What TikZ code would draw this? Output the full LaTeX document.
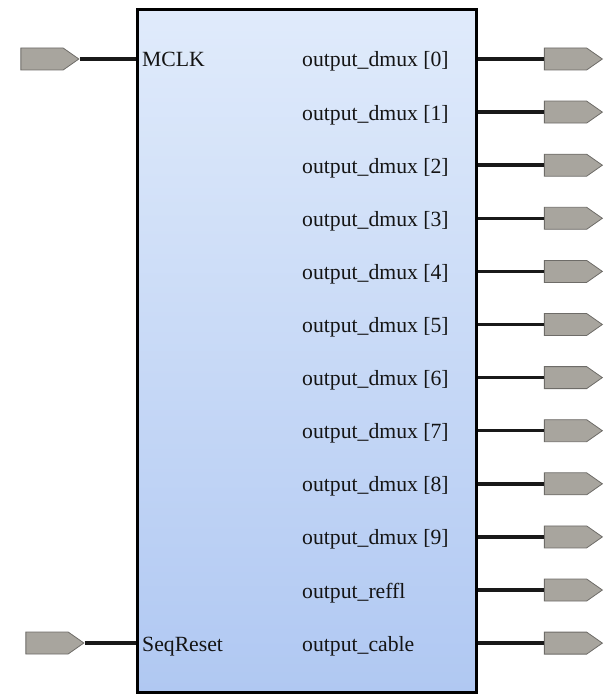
\documentclass[tikz,border=0pt]{standalone}
\usepackage{fontspec}
\setmainfont{Liberation Serif}
\usetikzlibrary{shapes.symbols}
\definecolor{boxtop}{RGB}{224,235,251}
\definecolor{boxbot}{RGB}{176,200,242}
\definecolor{portfill}{RGB}{168,165,158}
\definecolor{portedge}{RGB}{110,108,104}
\definecolor{wirec}{RGB}{25,25,25}
\tikzset{
  port/.style={shape=signal, signal to=east, signal from=nowhere, signal pointer angle=70,
    minimum width=58pt, minimum height=22pt, inner sep=0pt, fill=portfill, draw=portedge, line width=0.8pt},
  wire/.style={line width=3.5pt, draw=wirec},
  lbl/.style={font=\fontsize{21.7}{26}\selectfont, text=black!92, inner sep=0pt, anchor=base west},
}
\begin{document}
\begin{tikzpicture}[x=1pt,y=-1pt]
\useasboundingbox (0,0) rectangle (605,695);
\node[draw=black, line width=3pt, top color=boxtop, bottom color=boxbot,
  minimum width=339pt, minimum height=683pt, inner sep=0pt, anchor=north west] (box) at (136,8) {};
% inputs
\node[port] (pclk) at (42,59) {};
\node[port] (prst) at (47,643) {};
\draw[wire] (pclk.east) -- (pclk.east -| box.west);
\draw[wire] (prst.east) -- (prst.east -| box.west);
\node[lbl] (lclk) at (142,67) {MCLK};
\node[lbl] (lrst) at (142,651) {SeqReset};
% outputs
\foreach \i in {0,...,9} {
  \pgfmathsetmacro{\yy}{59+53.1*\i}
  \node[port] (po\i) at (565.5,\yy) {};
  \draw[wire] (po\i.west -| box.east) -- (po\i.west);
  \node[lbl] (lo\i) at (302,\yy+8) {output\_dmux [\i]};
}
\node[port] (pref) at (565.5,590) {};
\draw[wire] (pref.west -| box.east) -- (pref.west);
\node[lbl] (lref) at (302,598) {output\_reffl};
\node[port] (pcab) at (565.5,643.1) {};
\draw[wire] (pcab.west -| box.east) -- (pcab.west);
\node[lbl] (lcab) at (302,651) {output\_cable};
\end{tikzpicture}
\end{document}
